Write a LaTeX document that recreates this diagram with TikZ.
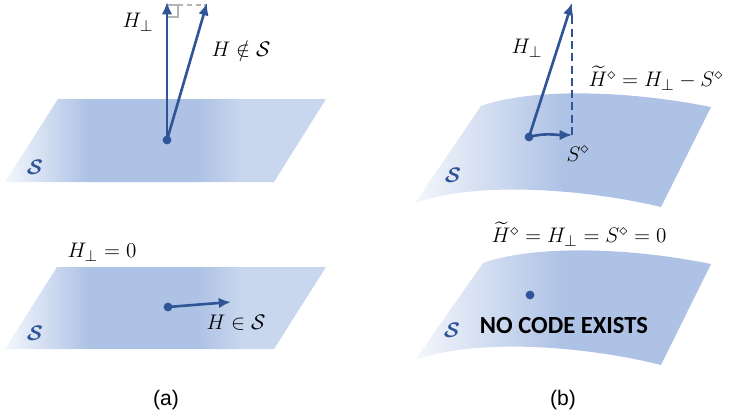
\documentclass[tikz,border=0pt]{standalone}
\usepackage{amsmath,amssymb}
\usepackage{fontspec}
\setsansfont{Liberation Sans}
\newfontfamily\codefont{Carlito}
\usetikzlibrary{arrows.meta,positioning,calc}
\definecolor{VecBlue}{HTML}{2F5597}
\definecolor{PlaneBlue}{HTML}{AEC2E5}
\definecolor{PlaneLight}{HTML}{C9D7EE}
\definecolor{PlaneWhite}{HTML}{F4F7FC}
\definecolor{MarkGray}{HTML}{B4B4B4}
\pgfdeclarehorizontalshading{flatshade}{100bp}{color(0bp)=(PlaneWhite); color(25bp)=(PlaneWhite); color(38bp)=(PlaneBlue); color(55bp)=(PlaneBlue); color(62bp)=(PlaneLight); color(75bp)=(PlaneLight); color(100bp)=(PlaneLight)}
\pgfdeclarehorizontalshading{curvedshade}{100bp}{color(0bp)=(PlaneWhite); color(25bp)=(PlaneWhite); color(50bp)=(PlaneBlue); color(100bp)=(PlaneBlue)}
\newcommand{\setS}{\boldsymbol{\mathcal{S}}}

\begin{document}
\begin{tikzpicture}[
  x=0.02cm,y=-0.02cm,
  vec/.style={-{Latex[length=7pt,width=6pt]},line width=1.5pt,VecBlue},
  dot/.style={circle,fill=VecBlue,inner sep=0pt,minimum size=5pt},
  lbl/.style={font=\fontsize{13}{15}\selectfont,inner sep=1pt},
  setlbl/.style={text=VecBlue,font=\fontsize{13}{15}\selectfont,inner sep=1pt},
  panelcap/.style={font=\sffamily\large}
]
\useasboundingbox (0,0) rectangle (733,419);

% (a) flat planes
\shade[shading=flatshade] (58,99) -- (326,99) -- (274,182) -- (5,182) -- cycle;
\shade[shading=flatshade] (57,267) -- (326,267) -- (274,349) -- (5,349) -- cycle;

% (b) curved surfaces
\shade[shading=curvedshade] (481,106) .. controls (525,90) and (615,88) .. (711,107)
  -- (661,207) .. controls (590,190) and (480,180) .. (415,203) -- cycle;
\shade[shading=curvedshade] (483,263) .. controls (527,247) and (617,245) .. (711,264)
  -- (661,365) .. controls (590,347) and (480,337) .. (415,360) -- cycle;

% (a) top: H outside the space
\draw[MarkGray,line width=1.2pt] (168,17) -- (178,17) -- (178,5) -- (168,5);
\draw[MarkGray,line width=1.2pt,dash pattern=on 3pt off 2pt] (178,5) -- (207,5);
\node[dot] (a0) at (167,140) {};
\coordinate (aperp) at (167,2);
\coordinate (ah) at (207,3);
\draw[vec] (a0.center) -- (aperp);
\draw[vec] (a0.center) -- (ah);
\node[lbl] (laperp) at (138,22) {$H_\perp$};
\node[lbl] (lah) at (241,49) {$H \notin \mathcal{S}$};
\node[setlbl] (sa1) at (35,167) {$\setS$};

% (a) bottom: H inside the space
\node[dot] (a1) at (168,307) {};
\coordinate (ain) at (231,302);
\draw[vec] (a1.center) -- (ain);
\node[lbl] (lazero) at (102,252) {$H_\perp = 0$};
\node[lbl] (lain) at (236,323) {$H \in \mathcal{S}$};
\node[setlbl] (sa2) at (35,333) {$\setS$};
\node[panelcap] (capa) at (166,400) {(a)};

% (b) top: curved space
\node[dot] (b0) at (529,137) {};
\coordinate (bperp) at (572,3);
\coordinate (bs) at (572,135);
\draw[vec] (b0.center) -- (bperp);
\draw[vec] (b0.center) to[out=15,in=180] (bs);
\draw[VecBlue,line width=1.5pt,dash pattern=on 4.5pt off 2.5pt] (bs) -- ($(bperp)+(0,12)$);
\node[lbl] (lbperp) at (527,48) {$H_\perp$};
\node[lbl] (lbdiff) at (656,78) {$\widetilde{H}^{\diamond} = H_\perp - S^{\diamond}$};
\node[lbl] (lbs) at (578,154) {$S^{\diamond}$};
\node[setlbl] (sb1) at (453,175) {$\setS$};

% (b) bottom: no code
\node[dot] (b1) at (530,295) {};
\node[lbl] (lbzero) at (579,234) {$\widetilde{H}^{\diamond} = H_\perp = S^{\diamond} = 0$};
\node[font=\codefont\bfseries\fontsize{14}{16}\selectfont] (nocode) at (564,326) {NO CODE EXISTS};
\node[setlbl] (sb2) at (452,330) {$\setS$};
\node[panelcap] (capb) at (563,400) {(b)};
\end{tikzpicture}
\end{document}
